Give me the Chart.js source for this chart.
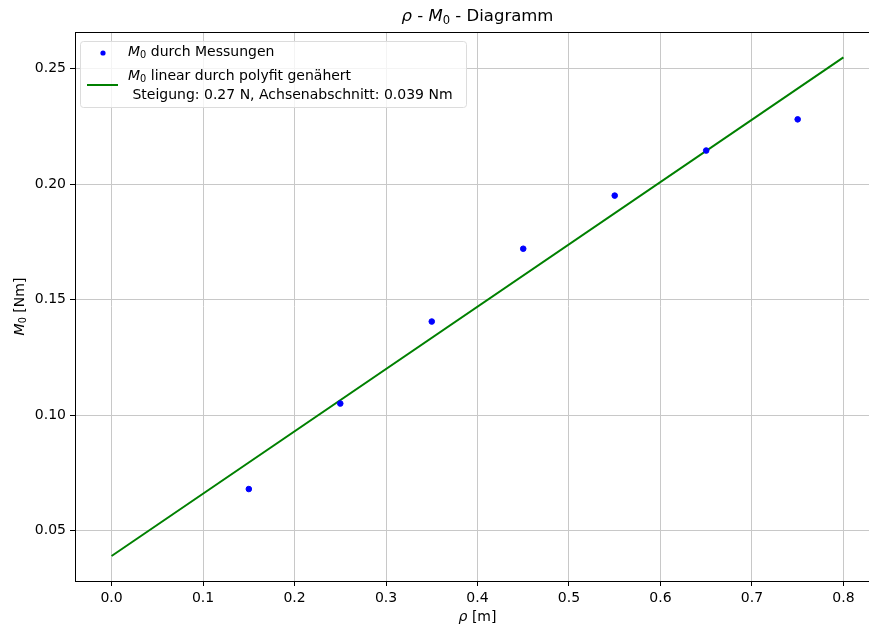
<!DOCTYPE html>
<html>
<head>
<meta charset="utf-8">
<script src="https://cdn.jsdelivr.net/npm/chart.js@4.4.1/dist/chart.umd.min.js"></script>
<style>
  html, body { margin: 0; padding: 0; background: #fff; overflow: hidden; }
  #wrap { width: 885px; height: 627px; }
</style>
</head>
<body>
<div id="wrap"><canvas id="myChart" width="885" height="627"></canvas></div>
<script>
// measured values
const rho = [0.15, 0.25, 0.35, 0.45, 0.55, 0.65, 0.75];
const m0 = [0.068, 0.105, 0.1405, 0.172, 0.195, 0.2145, 0.228];

// fitted line (polyfit), read from the end points
const fitRho = [0.0, 0.8];
const fitM0 = [0.039, 0.2548];

const xTicks = [0.0, 0.1, 0.2, 0.3, 0.4, 0.5, 0.6, 0.7, 0.8];
const yTicks = [0.05, 0.10, 0.15, 0.20, 0.25];

const labelPoints = 'M₀ durch Messungen';
const labelFit = 'M₀ linear durch polyfit genähert';
const labelFit2 = ' Steigung: 0.27 N, Achsenabschnitt: 0.039 Nm';

const FONT = "'DejaVu Sans', sans-serif";

// draws text pieces: normal, italic and subscript
function drawRich(ctx, parts, x, y, size, align) {
    let widths = parts.map(p => {
        ctx.font = (p.i ? 'italic ' : '') + (p.s ? size * 0.7 : size) + 'px ' + FONT;
        return ctx.measureText(p.t).width;
    });
    let total = widths.reduce((a, b) => a + b, 0);
    let cx = align == 'center' ? x - total / 2 : x;
    ctx.textAlign = 'left';
    ctx.textBaseline = 'middle';
    ctx.fillStyle = '#000';
    parts.forEach((p, i) => {
        ctx.font = (p.i ? 'italic ' : '') + (p.s ? size * 0.7 : size) + 'px ' + FONT;
        ctx.fillText(p.t, cx, p.s ? y + size * 0.25 : y);
        cx += widths[i];
    });
}

const extras = {
    id: 'extras',
    afterDraw(chart) {
        const ctx = chart.ctx;
        const a = chart.chartArea;
        ctx.save();
        // frame
        ctx.strokeStyle = '#000';
        ctx.lineWidth = 1;
        ctx.strokeRect(Math.round(a.left) + 0.5, Math.round(a.top) + 0.5, a.right - a.left, a.bottom - a.top);

        // title
        drawRich(ctx, [{t: 'ρ', i: true}, {t: ' - '}, {t: 'M', i: true}, {t: '0', s: true}, {t: ' - Diagramm'}],
            (a.left + a.right) / 2, 17, 16.5, 'center');

        // axis titles
        drawRich(ctx, [{t: 'ρ', i: true}, {t: ' [m]'}], (a.left + a.right) / 2, 617, 14, 'center');
        ctx.save();
        ctx.translate(20, (a.top + a.bottom) / 2);
        ctx.rotate(-Math.PI / 2);
        drawRich(ctx, [{t: 'M', i: true}, {t: '0', s: true}, {t: ' [Nm]'}], 0, 0, 14, 'center');
        ctx.restore();

        // legend box
        const bx = 80, by = 41, bw = 386, bh = 66;
        ctx.fillStyle = 'rgba(255,255,255,0.8)';
        ctx.strokeStyle = '#dcdcdc';
        ctx.lineWidth = 1;
        ctx.beginPath();
        ctx.roundRect(bx + 0.5, by + 0.5, bw, bh, 3);
        ctx.fill();
        ctx.stroke();

        ctx.fillStyle = '#0000ff';
        ctx.beginPath();
        ctx.arc(103, 53, 2.6, 0, Math.PI * 2);
        ctx.fill();

        ctx.strokeStyle = '#008000';
        ctx.lineWidth = 2;
        ctx.beginPath();
        ctx.moveTo(87, 85);
        ctx.lineTo(118, 85);
        ctx.stroke();

        drawRich(ctx, [{t: 'M', i: true}, {t: '0', s: true}, {t: ' durch Messungen'}], 128, 52, 14, 'left');
        drawRich(ctx, [{t: 'M', i: true}, {t: '0', s: true}, {t: ' linear durch polyfit genähert'}], 128, 76, 14, 'left');
        drawRich(ctx, [{t: labelFit2}], 128, 95, 14, 'left');
        ctx.restore();
    }
};

const ctx = document.getElementById('myChart').getContext('2d');
const myChart = new Chart(ctx, {
    type: 'scatter',
    data: {
        datasets: [
            {
                label: labelPoints,
                data: rho.map((r, i) => ({x: r, y: m0[i]})),
                backgroundColor: '#0000ff',
                borderColor: '#0000ff',
                pointRadius: 2.8,
                showLine: false,
                order: 1
            },
            {
                label: labelFit,
                data: fitRho.map((r, i) => ({x: r, y: fitM0[i]})),
                borderColor: '#008000',
                borderWidth: 2,
                pointRadius: 0,
                showLine: true,
                order: 2
            }
        ]
    },
    options: {
        responsive: false,
        animation: false,
        layout: { padding: { top: 32, right: 5, left: 0, bottom: 0 } },
        plugins: {
            legend: { display: false },
            title: { display: false },
            tooltip: { enabled: false }
        },
        scales: {
            x: {
                type: 'linear',
                min: -0.04,
                max: 0.84,
                afterBuildTicks: s => { s.ticks = xTicks.map(v => ({value: v})); },
                afterFit: s => { s.height = 46; },
                grid: { color: '#c8c8c8', tickColor: '#000', tickLength: 5, lineWidth: 1 },
                border: { display: true, color: '#000', width: 1 },
                ticks: {
                    color: '#000',
                    font: { family: FONT, size: 14 },
                    padding: 4,
                    maxRotation: 0,
                    callback: v => v.toFixed(1)
                }
            },
            y: {
                type: 'linear',
                min: 0.0282,
                max: 0.2658,
                afterBuildTicks: s => { s.ticks = yTicks.map(v => ({value: v})); },
                afterFit: s => { s.width = 75; },
                grid: { color: '#c8c8c8', tickColor: '#000', tickLength: 5, lineWidth: 1 },
                border: { display: true, color: '#000', width: 1 },
                ticks: {
                    color: '#000',
                    font: { family: FONT, size: 14 },
                    padding: 4,
                    callback: v => v.toFixed(2)
                }
            }
        }
    },
    plugins: [extras]
});
</script>
</body>
</html>
